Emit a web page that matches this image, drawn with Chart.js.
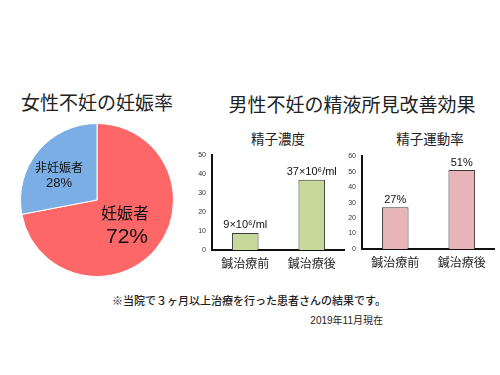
<!DOCTYPE html>
<html><head><meta charset="utf-8">
<script src="https://cdn.jsdelivr.net/npm/chart.js@4"></script>
<style>
html,body{margin:0;padding:0;background:#fff;width:500px;height:375px;overflow:hidden;font-family:"Liberation Sans","Noto Sans CJK JP",sans-serif;color:#222}
.t{position:absolute;white-space:nowrap;transform:translate(-50%,-50%);line-height:1}
canvas{position:absolute}
</style></head>
<body>
<div class="t" style="left:97px;top:103px;font-size:19px">女性不妊の妊娠率</div>
<div class="t" style="left:352px;top:105px;font-size:19px">男性不妊の精液所見改善効果</div>
<div class="t" style="left:278px;top:140px;font-size:13.5px">精子濃度</div>
<div class="t" style="left:430px;top:140px;font-size:13.5px">精子運動率</div>
<div class="t" style="left:249px;top:301px;font-size:11px;font-weight:500">※当院で３ヶ月以上治療を行った患者さんの結果です。</div>
<div class="t" style="left:383px;top:321px;font-size:10px;transform:translate(-100%,-50%)">2019年11月現在</div>
<div style="position:absolute;left:20px;top:123px;width:154px;height:154px"><canvas id="pie"></canvas></div>
<div style="position:absolute;left:190px;top:145px;width:155px;height:131px"><canvas id="bar1"></canvas></div>
<div style="position:absolute;left:340px;top:146px;width:155px;height:129px"><canvas id="bar2"></canvas></div>
<script>
const pieLabels = ['妊娠者', '非妊娠者'];
const pieValues = [72, 28];
const pieColors = ['#FE6767', '#7CAEE6'];

const barCategories = ['鍼治療前', '鍼治療後'];
const concentrationValues = [9, 37];
const concentrationLabels = ['9×10⁶/ml', '37×10⁶/ml'];
const concentrationMax = 50;
const motilityValues = [27, 51];
const motilityLabels = ['27%', '51%'];
const motilityMax = 60;
const tickStep = 10;

const FONT = '"Liberation Sans", "DejaVu Sans", "Noto Sans CJK JP", sans-serif';
const NUMFONT = '"Liberation Sans", "DejaVu Sans", sans-serif';
Chart.defaults.font.family = FONT;
Chart.defaults.color = '#222';

const pieLabelPlugin = {
  id: 'pieLabels',
  afterDraw(chart) {
    const ctx = chart.ctx;
    const meta = chart.getDatasetMeta(0);
    const cx = meta.data[0].x, cy = meta.data[0].y;
    ctx.save();
    ctx.fillStyle = '#111';
    ctx.textAlign = 'center';
    ctx.textBaseline = 'middle';
    ctx.font = '16px ' + FONT;
    ctx.fillText(pieLabels[0], cx + 28, cy + 15);
    ctx.font = '21px ' + FONT;
    ctx.fillText(pieValues[0] + '%', cx + 30, cy + 37);
    ctx.font = '12px ' + FONT;
    ctx.fillText(pieLabels[1], cx - 38, cy - 31);
    ctx.font = '13px ' + FONT;
    ctx.fillText(pieValues[1] + '%', cx - 38, cy - 17);
    ctx.restore();
  }
};

new Chart(document.getElementById('pie'), {
  type: 'pie',
  data: { labels: pieLabels, datasets: [{ data: pieValues, backgroundColor: pieColors, borderColor: '#fff', borderWidth: 1 }] },
  options: {
    responsive: true, maintainAspectRatio: false, animation: false,
    plugins: { legend: { display: false }, tooltip: { enabled: false } },
    layout: { padding: 0 }
  },
  plugins: [pieLabelPlugin]
});

function valueLabelPlugin(texts) {
  return {
    id: 'valueLabels',
    afterDatasetsDraw(chart) {
      const ctx = chart.ctx;
      const meta = chart.getDatasetMeta(0);
      ctx.save();
      ctx.fillStyle = '#111';
      ctx.font = '11px ' + NUMFONT;
      ctx.textAlign = 'center';
      ctx.textBaseline = 'bottom';
      meta.data.forEach((bar, i) => ctx.fillText(texts[i], bar.x, bar.y - 2));
      ctx.restore();
    }
  };
}

function barChart(id, values, texts, max, color) {
  new Chart(document.getElementById(id), {
    type: 'bar',
    data: { labels: barCategories, datasets: [{ data: values, backgroundColor: color, borderColor: '#3a3a3a', borderWidth: 1, barPercentage: 0.4, categoryPercentage: 1 }] },
    options: {
      responsive: true, maintainAspectRatio: false, animation: false,
      layout: { padding: { top: 5, left: 0, right: 0, bottom: 0 } },
      plugins: { legend: { display: false }, tooltip: { enabled: false } },
      scales: {
        x: {
          grid: { display: false, drawTicks: false },
          border: { display: true, color: '#111', width: 2 },
          ticks: { color: '#222', font: { size: 12, family: '"Noto Sans CJK JP", sans-serif' }, padding: 6 },
          afterFit: s => { s.height = 26; }
        },
        y: {
          min: 0, max: max,
          grid: { display: false, drawTicks: false },
          border: { display: true, color: '#111', width: 2 },
          ticks: { stepSize: tickStep, color: '#333', font: { size: 7, family: NUMFONT }, padding: 6 },
          afterFit: s => { s.width = 22; }
        }
      }
    },
    plugins: [valueLabelPlugin(texts)]
  });
}

barChart('bar1', concentrationValues, concentrationLabels, concentrationMax, '#C6D99B');
barChart('bar2', motilityValues, motilityLabels, motilityMax, '#E7B5B8');
</script>
</body></html>
